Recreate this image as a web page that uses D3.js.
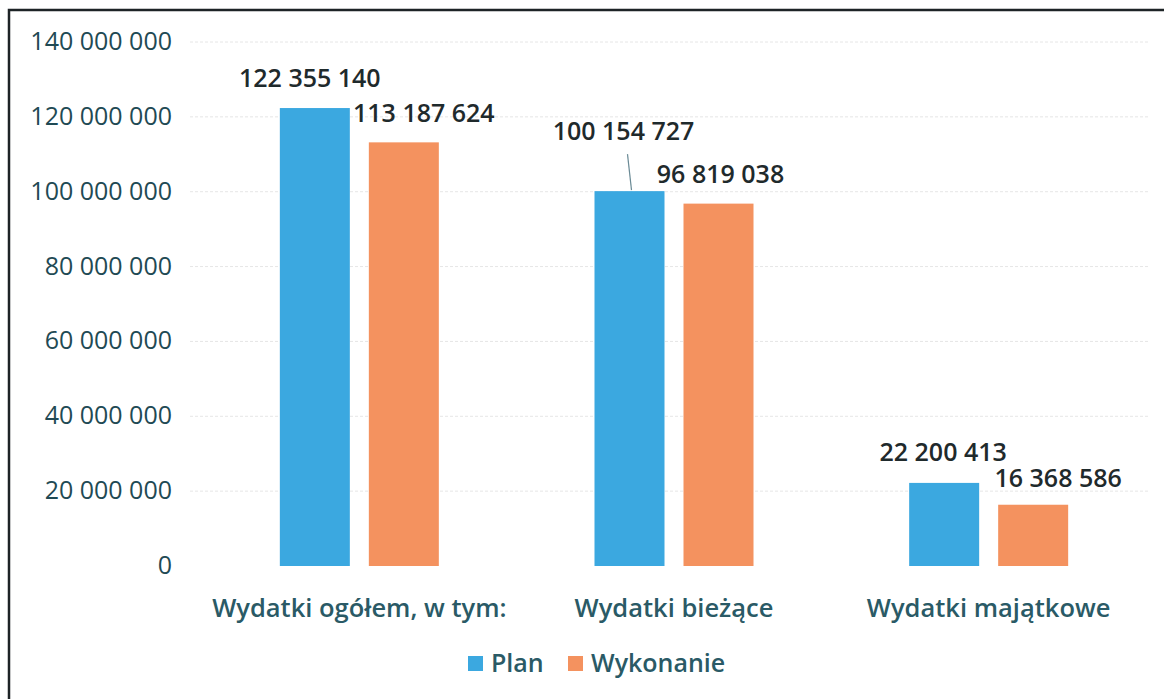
<!DOCTYPE html>
<html>
<head>
    <meta charset="utf-8">
    <title>Wydatki - plan i wykonanie</title>
    <style>
        body { margin: 0; background: #fff; }
        svg { display: block; background: #fff; }
        .tick-label { font-family: "Open Sans", sans-serif; font-size: 25px; font-weight: 500; fill: #1f4a54; }
        .cat-label { font-family: "Open Sans", sans-serif; font-size: 25.5px; font-weight: 600; fill: #2a5a66; }
        .value { font-family: "Open Sans", sans-serif; font-size: 25px; font-weight: 600; fill: #1f2a2c; }
        .legend { font-family: "Open Sans", sans-serif; font-size: 25px; font-weight: 600; fill: #2a5a66; }
        .grid { stroke: #e6e6e6; stroke-width: 1px; stroke-dasharray: 3 2; }
    </style>
    <script src="https://d3js.org/d3.v7.min.js"></script>
</head>
<body>
    <svg width="1164" height="699"></svg>
    <script>
        const categories = ['Wydatki ogółem, w tym:', 'Wydatki bieżące', 'Wydatki majątkowe'];
        const seriesNames = ['Plan', 'Wykonanie'];
        const planValues = [122355140, 100154727, 22200413];
        const wykonanieValues = [113187624, 96819038, 16368586];
        const yTicks = [0, 20000000, 40000000, 60000000, 80000000, 100000000, 120000000, 140000000];

        const colors = { 'Plan': '#3ba8e0', 'Wykonanie': '#f4925f' };
        // hand-placed data label offsets (like the moved labels in the original)
        const labelShift = {
            'Plan': [[-5, -21], [-6, -51], [-1, -22]],
            'Wykonanie': [[20, -20], [2, -21], [25, -18]]
        };

        const svg = d3.select("svg");
        const pl = d3.formatLocale({ decimal: ",", thousands: " ", grouping: [3], currency: ["", ""] });
        const fmt = pl.format(",");

        const y = d3.scaleLinear().domain([0, 140000000]).range([566, 42]);
        const x = d3.scaleBand().domain(categories).range([202, 1146]).padding(0);
        const xSub = d3.scaleBand().domain(seriesNames).range([0, 159]).paddingInner(19 / 89).paddingOuter(0);
        const groupOff = (x.bandwidth() - 159) / 2;

        // frame of the scanned page
        svg.append("path")
            .attr("d", "M9,700 L9,10 L1170,10")
            .attr("fill", "none")
            .attr("stroke", "#1d2326")
            .attr("stroke-width", 2.5);

        // grid lines
        svg.selectAll(".grid")
            .data(yTicks.slice(1))
            .enter()
            .append("line")
            .attr("class", "grid")
            .attr("x1", 190)
            .attr("x2", 1150)
            .attr("y1", d => y(d))
            .attr("y2", d => y(d));

        // y axis labels
        svg.selectAll(".tick-label")
            .data(yTicks)
            .enter()
            .append("text")
            .attr("class", "tick-label")
            .attr("x", 172)
            .attr("y", d => y(d) + 8)
            .attr("text-anchor", "end")
            .text(d => fmt(d));

        const rows = [];
        categories.forEach((c, i) => {
            rows.push({ cat: c, s: 'Plan', v: planValues[i], i: i });
            rows.push({ cat: c, s: 'Wykonanie', v: wykonanieValues[i], i: i });
        });
        const barX = d => x(d.cat) + groupOff + xSub(d.s);

        // bars
        svg.selectAll(".bar")
            .data(rows)
            .enter()
            .append("rect")
            .attr("class", "bar")
            .attr("x", barX)
            .attr("y", d => y(d.v))
            .attr("width", xSub.bandwidth())
            .attr("height", d => y(0) - y(d.v))
            .attr("fill", d => colors[d.s]);

        // leader line for the moved label
        const lead = rows.find(d => d.s === 'Plan' && d.i === 1);
        svg.append("line")
            .attr("x1", barX(lead) + xSub.bandwidth() / 2 - 2)
            .attr("y1", y(lead.v) - 37)
            .attr("x2", barX(lead) + xSub.bandwidth() / 2 + 2)
            .attr("y2", y(lead.v) - 1)
            .attr("stroke", "#6a8a95")
            .attr("stroke-width", 1.2);

        // value labels
        svg.selectAll(".value")
            .data(rows)
            .enter()
            .append("text")
            .attr("class", "value")
            .attr("x", d => barX(d) + xSub.bandwidth() / 2 + labelShift[d.s][d.i][0])
            .attr("y", d => y(d.v) + labelShift[d.s][d.i][1])
            .attr("text-anchor", "middle")
            .text(d => fmt(d.v));

        // category labels
        svg.selectAll(".cat-label")
            .data(categories)
            .enter()
            .append("text")
            .attr("class", "cat-label")
            .attr("x", d => x(d) + x.bandwidth() / 2)
            .attr("y", 617)
            .attr("text-anchor", "middle")
            .text(d => d);

        // legend
        const legendX = [468, 568];
        const lg = svg.selectAll(".lg")
            .data(seriesNames)
            .enter()
            .append("g")
            .attr("transform", (d, i) => `translate(${legendX[i]},656)`);
        lg.append("rect")
            .attr("width", 15)
            .attr("height", 15)
            .attr("fill", d => colors[d]);
        lg.append("text")
            .attr("class", "legend")
            .attr("x", 23)
            .attr("y", 16)
            .text(d => d);
    </script>
</body>
</html>
